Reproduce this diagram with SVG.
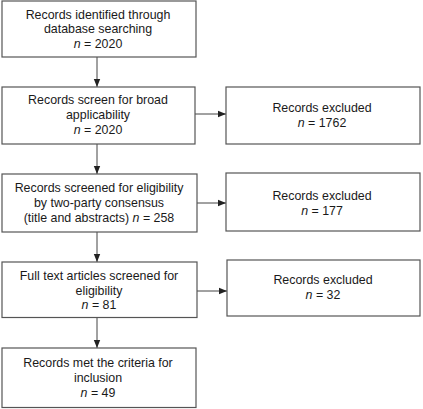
<svg xmlns="http://www.w3.org/2000/svg" width="423" height="409" viewBox="0 0 423 409">
<defs>
<style>
.box{fill:#fff;stroke:#555;stroke-width:1.2}
.t{font-family:"Liberation Sans",Arial,sans-serif;font-size:12.4px;fill:#1a1a1a;text-anchor:middle}
.i{font-style:italic}
.c{stroke:#444;stroke-width:1;fill:none}
</style>
<marker id="ah" viewBox="0 0 8 8" refX="8" refY="4" markerWidth="8" markerHeight="8" markerUnits="userSpaceOnUse" orient="auto">
<path d="M0,0.8 L8,4 L0,7.2 z" fill="#222"/>
</marker>
</defs>
<rect width="423" height="409" fill="#fff"/>
<g id="connectors">
<line class="c" x1="97" y1="57" x2="97" y2="87" marker-end="url(#ah)"/>
<line class="c" x1="97" y1="144" x2="97" y2="174" marker-end="url(#ah)"/>
<line class="c" x1="97" y1="232" x2="97" y2="262" marker-end="url(#ah)"/>
<line class="c" x1="97" y1="317.5" x2="97" y2="348" marker-end="url(#ah)"/>
<line class="c" x1="195" y1="114" x2="226" y2="114" marker-end="url(#ah)"/>
<line class="c" x1="197" y1="203" x2="226" y2="203" marker-end="url(#ah)"/>
<line class="c" x1="197" y1="291" x2="227" y2="291" marker-end="url(#ah)"/>
</g>
<g id="n1">
<rect class="box" x="2" y="1" width="194" height="56"/>
<text class="t" x="98" y="18.5">Records identified through</text>
<text class="t" x="98" y="33.3">database searching</text>
<text class="t" x="98" y="48"><tspan class="i">n</tspan> = 2020</text>
</g>
<g id="n2">
<rect class="box" x="2" y="87" width="193" height="57"/>
<text class="t" x="98" y="104">Records screen for broad</text>
<text class="t" x="98" y="119">applicability</text>
<text class="t" x="98" y="134"><tspan class="i">n</tspan> = 2020</text>
</g>
<g id="x1">
<rect class="box" x="226" y="87" width="194" height="57"/>
<text class="t" x="322" y="111.7">Records excluded</text>
<text class="t" x="322" y="126.7"><tspan class="i">n</tspan> = 1762</text>
</g>
<g id="n3">
<rect class="box" x="2" y="174" width="195" height="58"/>
<text class="t" x="99" y="191.7">Records screened for eligibility</text>
<text class="t" x="99" y="206.7">by two-party consensus</text>
<text class="t" x="99" y="221.7">(title and abstracts) <tspan class="i">n</tspan> = 258</text>
</g>
<g id="x2">
<rect class="box" x="226" y="173" width="194" height="58"/>
<text class="t" x="322" y="200">Records excluded</text>
<text class="t" x="322" y="215"><tspan class="i">n</tspan> = 177</text>
</g>
<g id="n4">
<rect class="box" x="2" y="262" width="195" height="55.5"/>
<text class="t" x="99" y="279.8">Full text articles screened for</text>
<text class="t" x="99" y="294.5">eligibility</text>
<text class="t" x="99" y="309.2"><tspan class="i">n</tspan> = 81</text>
</g>
<g id="x3">
<rect class="box" x="227" y="260" width="193" height="56"/>
<text class="t" x="323" y="284.3">Records excluded</text>
<text class="t" x="323" y="299.3"><tspan class="i">n</tspan> = 32</text>
</g>
<g id="n5">
<rect class="box" x="2" y="348" width="194" height="59.5"/>
<text class="t" x="98" y="367.2">Records met the criteria for</text>
<text class="t" x="98" y="382">inclusion</text>
<text class="t" x="98" y="396.8"><tspan class="i">n</tspan> = 49</text>
</g>
</svg>
